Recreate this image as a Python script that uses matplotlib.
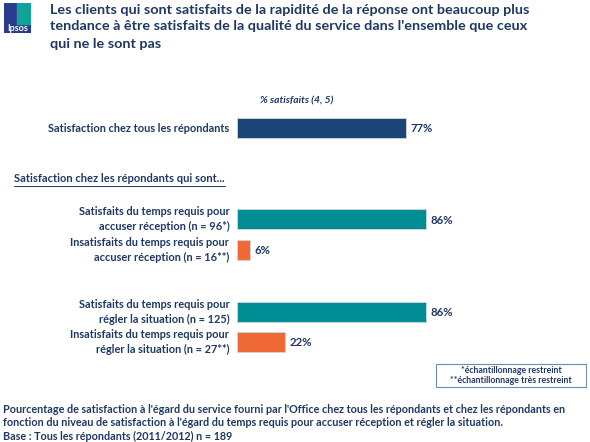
import matplotlib.pyplot as plt
from matplotlib.patches import Rectangle

plt.rcParams['font.family'] = ['Lato', 'DejaVu Sans']

# ---- data ----
title = ("Les clients qui sont satisfaits de la rapidité de la réponse ont beaucoup plus\n"
         "tendance à être satisfaits de la qualité du service dans l'ensemble que ceux\n"
         "qui ne le sont pas")
labels = ["Satisfaction chez tous les répondants",
          "Satisfaits du temps requis pour\naccuser réception (n = 96*)",
          "Insatisfaits du temps requis pour\naccuser réception (n = 16**)",
          "Satisfaits du temps requis pour\nrégler la situation (n = 125)",
          "Insatisfaits du temps requis pour\nrégler la situation (n = 27**)"]
values = [77, 86, 6, 86, 22]
kinds = ["all", "sat", "insat", "sat", "insat"]
footnote = ("Pourcentage de satisfaction à l'égard du service fourni par l'Office chez tous les répondants et chez les répondants en\n"
            "fonction du niveau de satisfaction à l'égard du temps requis pour accuser réception et régler la situation.\n"
            "Base : Tous les répondants (2011/2012) n = 189")

# ---- layout ----
W, H = 590, 442
ypos = [128, 219, 250, 312, 342]   # bar centres in pixels from top
colors = {"all": "#1B4577", "sat": "#008E94", "insat": "#EE6936"}
navy = "#1F3864"

fig = plt.figure(figsize=(W / 100, H / 100), dpi=100)
# axes: x from 0..100 % mapped onto 237..457 px, y in pixels from top
ax = fig.add_axes([237 / W, 0, 220 / W, 1])
ax.set_xlim(0, 100)
ax.set_ylim(H, 0)
ax.axis('off')

ax.barh(ypos, values, height=20, color=[colors[k] for k in kinds],
        edgecolor='#D0D8E0', linewidth=0.6)
for y, v, lab in zip(ypos, values, labels):
    ax.text(v + 2, y + 1, f"{v}%", ha='left', va='center', fontsize=8.2,
            fontweight='bold', color=navy)
    ax.text(-3.5, y, lab, ha='right', va='center', fontsize=7.9,
            fontweight='bold', color=navy, linespacing=1.4, clip_on=False)

def fx(px):
    return px / W

def fy(py):
    return 1 - py / H

# logo
lax = fig.add_axes([fx(4), fy(33), 27 / W, 30 / H])
lax.set_xlim(0, 27)
lax.set_ylim(0, 30)
lax.axis('off')
lax.add_patch(Rectangle((0, 0), 27, 30, color='#2B3C8F'))
lax.add_patch(Rectangle((13, 9), 14, 21, color='#0FA39A'))
lax.text(13.5, 4.8, "Ipsos", ha='center', va='center', color='white',
         fontsize=6.5, fontweight='bold')

fig.text(fx(50), fy(3.5), title, ha='left', va='top', fontsize=10.4,
         fontweight='bold', color=navy, linespacing=1.5)

fig.text(fx(297), fy(101), "% satisfaits (4, 5)", ha='center', va='center',
         fontsize=7.4, fontweight='bold', style='italic', color=navy)

sub = fig.text(fx(14), fy(178), "Satisfaction chez les répondants qui sont...",
               ha='left', va='center', fontsize=8.0, fontweight='bold', color=navy)
fig.canvas.draw()
bb = sub.get_window_extent()
fig.add_artist(plt.Line2D([bb.x0 / W, bb.x1 / W], [fy(186), fy(186)],
                          color=navy, linewidth=0.7))

# note box
fig.add_artist(Rectangle((fx(436), fy(387)), 150 / W, 23 / H, fill=False,
                         edgecolor='#6F8CA8', linewidth=0.8))
fig.text(fx(511), fy(375.5), "*échantillonnage restreint\n**échantillonnage très restreint",
         ha='center', va='center', fontsize=6.3, fontweight='bold', color=navy,
         linespacing=1.25)

fig.text(fx(3), fy(404), footnote, ha='left', va='top', fontsize=7.75,
         fontweight='bold', color=navy, linespacing=1.25)

fig.savefig("out.png", dpi=100)
